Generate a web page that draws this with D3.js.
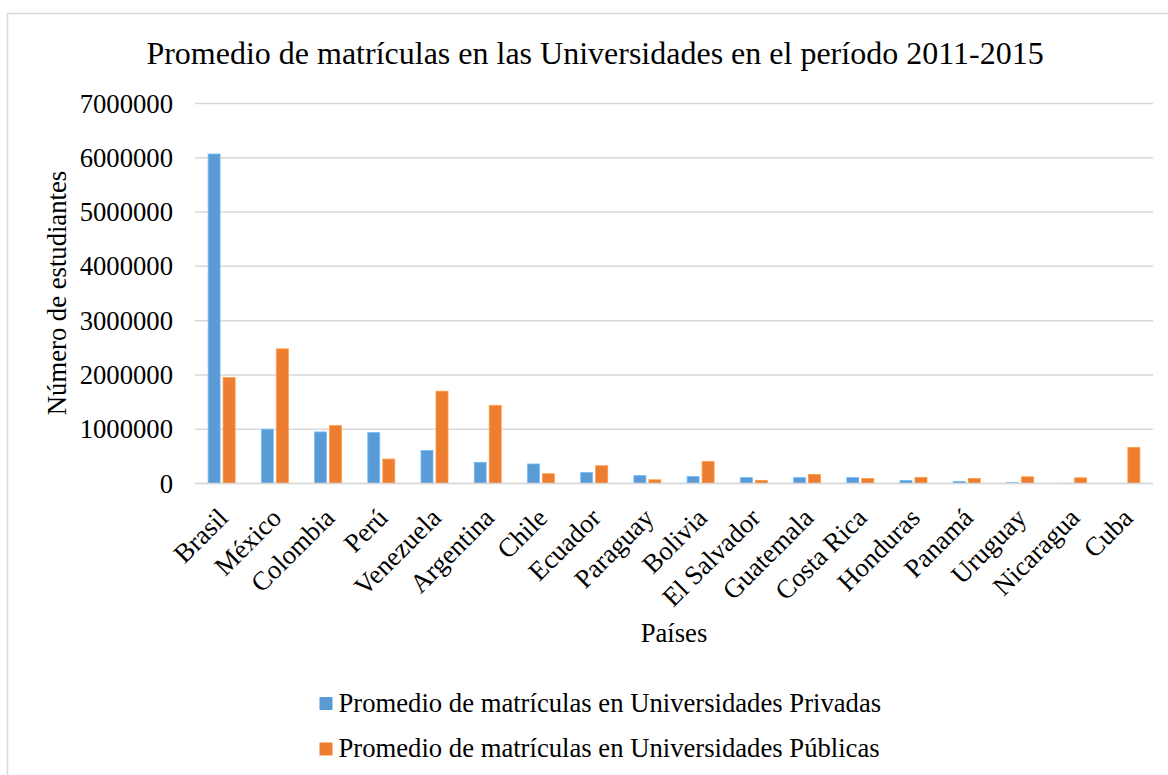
<!DOCTYPE html>
<html>
<head>
<meta charset="utf-8">
<script src="https://cdn.jsdelivr.net/npm/d3@7"></script>
<style>
  body { margin: 0; background: #fff; }
  text { font-family: "Liberation Serif", "Times New Roman", serif; fill: #000; }
</style>
</head>
<body>
<script>
const width = 1168;
const height = 775;

// data
const countries = ['Brasil', 'México', 'Colombia', 'Perú', 'Venezuela', 'Argentina', 'Chile',
  'Ecuador', 'Paraguay', 'Bolivia', 'El Salvador', 'Guatemala', 'Costa Rica', 'Honduras',
  'Panamá', 'Uruguay', 'Nicaragua', 'Cuba'];
const privadas = [6070000, 1000000, 950000, 940000, 610000, 390000, 360000,
  205000, 148000, 130000, 111000, 111000, 111000, 56000,
  37000, 19000, 4000, 0];
const publicas = [1950000, 2480000, 1066000, 450000, 1700000, 1440000, 180000,
  327000, 68000, 407000, 56000, 167000, 93000, 111000,
  93000, 123000, 105000, 665000];
const yTicks = [0, 1000000, 2000000, 3000000, 4000000, 5000000, 6000000, 7000000];
const seriesNames = ['Promedio de matrículas en Universidades Privadas',
  'Promedio de matrículas en Universidades Públicas'];
const colors = ['#5b9bd5', '#ed7d31'];

const fontSize = 26.67;

const svg = d3.select('body').append('svg')
  .attr('width', width)
  .attr('height', height);

// outer chart frame
svg.append('rect')
  .attr('x', 7.5).attr('y', 13.5)
  .attr('width', width).attr('height', height)
  .attr('fill', 'none')
  .attr('stroke', '#d9d9d9')
  .attr('stroke-width', 1.5);

const plot = { left: 195, right: 1153, top: 103.5, bottom: 483.5 };

const x = d3.scaleBand()
  .domain(countries)
  .range([plot.left, plot.right]);

const y = d3.scaleLinear()
  .domain([0, 7000000])
  .range([plot.bottom, plot.top]);

const xSeries = d3.scaleBand()
  .domain([0, 1])
  .range([x.bandwidth() / 2 - 13.5, x.bandwidth() / 2 + 13.5])
  .paddingInner(0.2);

// gridlines
svg.append('g')
  .selectAll('line')
  .data(yTicks)
  .enter().append('line')
    .attr('x1', plot.left).attr('x2', plot.right)
    .attr('y1', d => y(d)).attr('y2', d => y(d))
    .attr('stroke', '#d9d9d9')
    .attr('stroke-width', 1.5);

// y axis labels
const yAxis = svg.append('g')
  .attr('transform', `translate(${plot.left - 22}, 0)`)
  .call(d3.axisLeft(y).tickValues(yTicks).tickFormat(d3.format('d')).tickSize(0).tickPadding(0));
yAxis.select('.domain').remove();
yAxis.selectAll('text')
  .attr('font-size', fontSize)
  .attr('font-family', '"Liberation Serif", serif')
  .attr('fill', '#000');

// bars
const groups = svg.append('g')
  .selectAll('g')
  .data(countries)
  .enter().append('g')
    .attr('transform', d => `translate(${x(d)}, 0)`);

groups.selectAll('rect')
  .data((d, i) => [privadas[i], publicas[i]])
  .enter().append('rect')
    .attr('x', (d, j) => xSeries(j))
    .attr('width', xSeries.bandwidth())
    .attr('y', d => y(d))
    .attr('height', d => y(0) - y(d))
    .attr('fill', (d, j) => colors[j])
    .attr('stroke', (d, j) => d3.color(colors[j]).brighter(0.6))
    .attr('stroke-width', 0.8);

// x axis line on top of bars
svg.append('line')
  .attr('x1', plot.left).attr('x2', plot.right)
  .attr('y1', y(0)).attr('y2', y(0))
  .attr('stroke', '#d9d9d9')
  .attr('stroke-width', 1.5);

// country labels
const xAxis = svg.append('g')
  .attr('transform', `translate(0, ${plot.bottom})`)
  .call(d3.axisBottom(x).tickSize(0).tickPadding(0));
xAxis.select('.domain').remove();
xAxis.selectAll('text')
  .attr('font-size', fontSize)
  .attr('font-family', '"Liberation Serif", serif')
  .attr('fill', '#000')
  .attr('text-anchor', 'end')
  .attr('dy', 0)
  .attr('transform', 'translate(8, 36) rotate(-45)');

// titles
svg.append('text')
  .attr('x', 595).attr('y', 64)
  .attr('text-anchor', 'middle')
  .attr('font-size', 32)
  .text('Promedio de matrículas en las Universidades en el período 2011-2015');

svg.append('text')
  .attr('transform', `translate(66, ${(171 + 415) / 2}) rotate(-90)`)
  .attr('text-anchor', 'middle')
  .attr('font-size', fontSize)
  .text('Número de estudiantes');

svg.append('text')
  .attr('x', 674).attr('y', 642)
  .attr('text-anchor', 'middle')
  .attr('font-size', fontSize)
  .text('Países');

// legend
const legend = svg.append('g')
  .selectAll('g')
  .data(seriesNames)
  .enter().append('g')
    .attr('transform', (d, i) => `translate(319.5, ${697 + i * 45.5})`);

legend.append('rect')
  .attr('width', 13).attr('height', 13)
  .attr('fill', (d, i) => colors[i]);

legend.append('text')
  .attr('x', 19).attr('y', 14.5)
  .attr('font-size', fontSize)
  .text(d => d);
</script>
</body>
</html>
